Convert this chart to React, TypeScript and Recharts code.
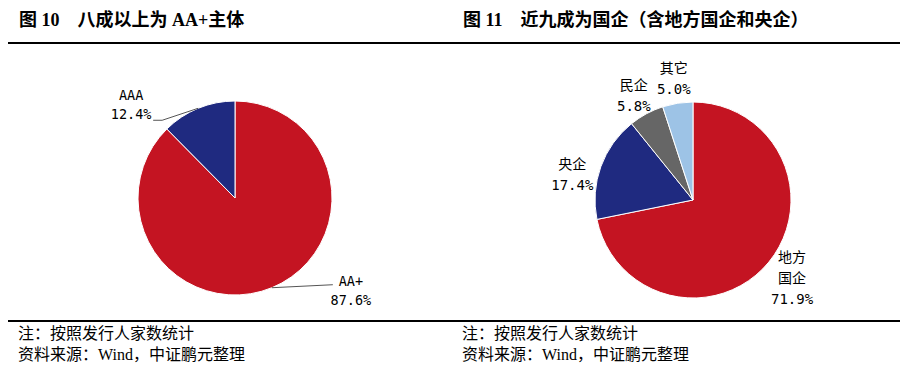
import React from "react";
import { PieChart, Pie, Cell } from "recharts";

// left panel: rating mix
const ratingNames = ["AA+", "AAA"];
const ratingValues = [87.6, 12.4];
const ratingColors = ["#C41422", "#1F2A80"];

// right panel: issuer type mix
const ownerNames = ["地方国企", "央企", "民企", "其它"];
const ownerValues = [71.9, 17.4, 5.8, 5.0];
const ownerColors = ["#C41422", "#1F2A80", "#666666", "#9DC3E6"];

const ratingData = ratingNames.map((name, i) => ({ name, value: ratingValues[i] }));
const ownerData = ownerNames.map((name, i) => ({ name, value: ownerValues[i] }));

const RADIAN = Math.PI / 180;
const labelFont = "'DejaVu Sans Mono', 'Noto Sans CJK SC', monospace";
const cjkFont = "'Liberation Serif', 'Noto Sans CJK SC', serif";
const noMargin = { top: 0, right: 0, bottom: 0, left: 0 };

function edge(cx: number, cy: number, r: number, midAngle: number) {
  return {
    x: cx + r * Math.cos(-midAngle * RADIAN),
    y: cy + r * Math.sin(-midAngle * RADIAN),
  };
}

// Excel-style label with a leader line, pushed out sideways
function RatingLabel(props: any) {
  const { cx, cy, midAngle, outerRadius, name, value } = props;
  const e = edge(cx, cy, outerRadius, midAngle);
  const left = e.x < cx;
  const pts = left
    ? [e, { x: e.x - 36, y: e.y + 12 }, { x: e.x - 45, y: e.y + 12 }]
    : [e, { x: e.x + 61, y: e.y - 3 }];
  const tx = left ? e.x - 67 : e.x + 79;
  const ty = left ? e.y - 13 : e.y - 7;
  return (
    <g>
      <polyline
        points={pts.map((p) => `${p.x},${p.y}`).join(" ")}
        fill="none"
        stroke="#555"
        strokeWidth={1}
      />
      <text x={tx} y={ty} textAnchor="middle" dominantBaseline="central" fontSize={13.5} fontFamily={labelFont} fill="#000">
        <tspan x={tx}>{name}</tspan>
        <tspan x={tx} dy={19}>{value.toFixed(1)}%</tspan>
      </text>
    </g>
  );
}

function OwnerLabel(props: any) {
  const { cx, cy, midAngle, outerRadius, name, value } = props;
  const lines: string[] = [];
  for (let i = 0; i < name.length; i += 2) lines.push(name.slice(i, i + 2));
  lines.push(value.toFixed(1) + "%");
  const p = edge(cx, cy, outerRadius + (lines.length > 2 ? 30 : 25), midAngle);
  // labels on the left side sit a bit lower and further out, as in the source
  const dx = Math.cos(-midAngle * RADIAN);
  const onLeft = p.x < cx;
  const sag = onLeft ? 18 * dx * dx : -3;
  const px = onLeft ? p.x + 6 * dx * dx * dx : p.x;
  const step = 21;
  const y0 = p.y + sag - ((lines.length - 1) * step) / 2;
  return (
    <text x={px} y={y0} textAnchor="middle" dominantBaseline="central" fontSize={14} fontFamily={labelFont} fill="#000">
      {lines.map((l, i) => (
        <tspan key={i} x={px} dy={i === 0 ? 0 : step}>
          {l}
        </tspan>
      ))}
    </text>
  );
}

function Panel({ left, width, title, children }: any) {
  return (
    <div style={{ position: "absolute", left, top: 0, width, height: 368 }}>
      <div
        style={{
          position: "absolute",
          left: 11,
          top: 8,
          fontFamily: cjkFont,
          fontWeight: 700,
          fontSize: 18,
          lineHeight: "24px",
          whiteSpace: "pre",
          color: "#000",
        }}
      >
        {title}
      </div>
      <div style={{ position: "absolute", left: 0, top: 42, width, height: 1.5, background: "#000" }} />
      <div style={{ position: "absolute", left: 0, top: 45 }}>{children}</div>
      <div style={{ position: "absolute", left: 0, top: 320, width, height: 1.5, background: "#000" }} />
      <div
        style={{
          position: "absolute",
          left: 10,
          top: 323,
          fontFamily: cjkFont,
          fontSize: 16,
          lineHeight: "21px",
          color: "#000",
          whiteSpace: "pre",
        }}
      >
        <div>注：按照发行人家数统计</div>
        <div>资料来源：Wind，中证鹏元整理</div>
      </div>
    </div>
  );
}

export default function App() {
  return (
    <div style={{ position: "absolute", left: 0, top: 0, width: 904, height: 368, background: "#fff" }}>
      <Panel left={8} width={444} title={"图 10　八成以上为 AA+主体"}>
        <PieChart width={444} height={275} margin={noMargin}>
          <Pie
            data={ratingData}
            dataKey="value"
            nameKey="name"
            cx={227}
            cy={153}
            outerRadius={97}
            startAngle={90}
            endAngle={-270}
            stroke="#fff"
            strokeWidth={1}
            label={RatingLabel}
            labelLine={false}
            isAnimationActive={false}
          >
            {ratingData.map((d, i) => (
              <Cell key={d.name} fill={ratingColors[i]} />
            ))}
          </Pie>
        </PieChart>
      </Panel>
      <Panel left={452} width={448} title={"图 11　近九成为国企（含地方国企和央企）"}>
        <PieChart width={448} height={275} margin={noMargin}>
          <Pie
            data={ownerData}
            dataKey="value"
            nameKey="name"
            cx={241}
            cy={155}
            outerRadius={98}
            startAngle={90}
            endAngle={-270}
            stroke="#fff"
            strokeWidth={1}
            label={OwnerLabel}
            labelLine={false}
            isAnimationActive={false}
          >
            {ownerData.map((d, i) => (
              <Cell key={d.name} fill={ownerColors[i]} />
            ))}
          </Pie>
        </PieChart>
      </Panel>
    </div>
  );
}
